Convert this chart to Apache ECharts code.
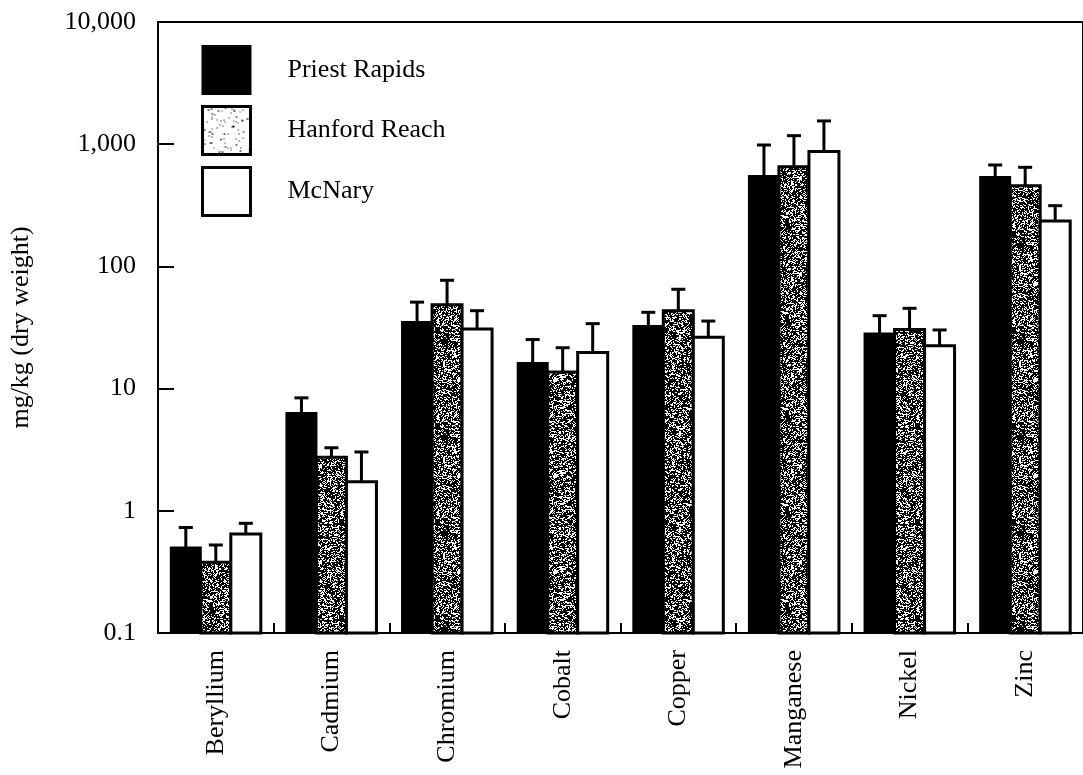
<!DOCTYPE html>
<html>
<head>
<meta charset="utf-8">
<script src="https://cdn.jsdelivr.net/npm/echarts@6/dist/echarts.min.js"></script>
<style>
  html, body { margin: 0; padding: 0; background: #fff; }
  #chart { width: 1083px; height: 775px; }
</style>
</head>
<body>
<div id="chart"></div>
<script>
// Metal concentrations in sediment, mg/kg dry weight (mean and upper error bound)
const metals = ['Beryllium', 'Cadmium', 'Chromium', 'Cobalt', 'Copper', 'Manganese', 'Nickel', 'Zinc'];
const siteNames = ['Priest Rapids', 'Hanford Reach', 'McNary'];

const priestRapids     = [0.50, 6.3, 35, 16.2, 32.5, 550, 28.3, 540];
const priestRapidsHigh = [0.73, 8.4, 51, 25.2, 42.1, 985, 39.5, 676];

const hanfordReach     = [0.38, 2.74, 48.6, 13.7, 43.4, 655, 30.5, 457];
const hanfordReachHigh = [0.525, 3.28, 77, 21.6, 65, 1175, 45.4, 647];

const mcNary     = [0.645, 1.73, 30.8, 19.7, 26.3, 870, 22.4, 235];
const mcNaryHigh = [0.79, 3.03, 43.4, 34, 35.7, 1550, 30.2, 314];

const yTickLabels = { '0.1': '0.1', '1': '1', '10': '10', '100': '100', '1000': '1,000', '10000': '10,000' };

const Y_MIN = 0.1;
const Y_MAX = 10000;

const FONT = '"Liberation Serif", "Times New Roman", serif';
const BAR_W = 30;

// Stippled fill used for the Hanford Reach bars (dense) and its legend key (sparse)
function stipple(density, seed) {
  const size = 96;
  const c = document.createElement('canvas');
  c.width = size; c.height = size;
  const ctx = c.getContext('2d');
  ctx.fillStyle = '#fff';
  ctx.fillRect(0, 0, size, size);
  ctx.fillStyle = '#000';
  let s = seed >>> 0;
  const next = () => { s = (Math.imul(s, 1664525) + 1013904223) >>> 0; return s / 4294967296; };
  for (let y = 0; y < size; y++) {
    for (let x = 0; x < size; x++) {
      if (next() < density) {
        const w = next() < 0.3 ? 2 : 1;
        ctx.fillRect(x, y, w, 1);
      }
    }
  }
  return c;
}
const denseFill = { image: stipple(0.58, 7), repeat: 'repeat' };
const lightFill = { image: stipple(0.035, 11), repeat: 'repeat' };

const siteStyles = [
  { fill: '#000', border: 2 },
  { fill: denseFill, border: 3 },
  { fill: '#fff', border: 3 }
];

// Bars rise from the bottom of the log axis (0.1), so they are drawn as custom rects
function barSeries(slot, means) {
  const st = siteStyles[slot];
  return {
    name: siteNames[slot],
    type: 'custom',
    z: 3,
    itemStyle: { color: st.fill, borderColor: '#000', borderWidth: st.border },
    data: metals.map((m, i) => [i, means[i]]),
    encode: { x: 0, y: 1 },
    renderItem(params, api) {
      const idx = api.value(0);
      const top = api.coord([idx, api.value(1)]);
      const bottom = api.coord([idx, Y_MIN]);
      const cx = top[0] + (slot - 1) * BAR_W;
      return {
        type: 'rect',
        shape: { x: cx - BAR_W / 2, y: top[1], width: BAR_W, height: bottom[1] - top[1] },
        style: { fill: st.fill, stroke: '#000', lineWidth: st.border }
      };
    },
    silent: true
  };
}

function errorSeries(slot, means, highs) {
  return {
    name: siteNames[slot] + ' error',
    type: 'custom',
    z: 5,
    data: metals.map((m, i) => [i, means[i], highs[i]]),
    encode: { x: 0, y: [1, 2] },
    renderItem(params, api) {
      const idx = api.value(0);
      const base = api.coord([idx, api.value(1)]);
      const top = api.coord([idx, api.value(2)]);
      const x = base[0] + (slot - 1) * BAR_W;
      const capHalf = 7;
      const style = { stroke: '#000', lineWidth: 3 };
      return {
        type: 'group',
        children: [
          { type: 'line', shape: { x1: x, y1: base[1], x2: x, y2: top[1] }, style },
          { type: 'line', shape: { x1: x - capHalf, y1: top[1], x2: x + capHalf, y2: top[1] }, style }
        ]
      };
    },
    silent: true
  };
}

const chart = echarts.init(document.getElementById('chart'), null, { renderer: 'canvas' });

chart.setOption({
  animation: false,
  backgroundColor: '#fff',
  textStyle: { fontFamily: FONT, color: '#000' },
  grid: {
    left: 156, top: 22, width: 936, height: 611,
    show: true, borderColor: '#000', borderWidth: 2, backgroundColor: 'transparent'
  },
  legend: {
    orient: 'vertical',
    left: 201, top: 45, padding: 0,
    itemWidth: 48, itemHeight: 48, itemGap: 10,
    icon: 'rect',
    textStyle: { fontFamily: FONT, fontSize: 26, color: '#000', padding: [0, 0, 0, 32] },
    data: [
      { name: siteNames[0], itemStyle: { color: '#000', borderColor: '#000', borderWidth: 2 } },
      { name: siteNames[1], itemStyle: { color: lightFill, borderColor: '#000', borderWidth: 3 } },
      { name: siteNames[2], itemStyle: { color: '#fff', borderColor: '#000', borderWidth: 3 } }
    ]
  },
  xAxis: {
    type: 'category',
    data: metals,
    axisLine: { lineStyle: { color: '#000', width: 2 } },
    axisTick: { show: true, inside: true, length: 10, interval: 0, lineStyle: { color: '#000', width: 2 } },
    axisLabel: { rotate: 90, margin: 17, fontFamily: FONT, fontSize: 26, color: '#000', interval: 0 },
    splitLine: { show: false }
  },
  yAxis: {
    type: 'log',
    logBase: 10,
    min: Y_MIN,
    max: Y_MAX,
    name: 'mg/kg (dry weight)',
    nameLocation: 'middle',
    nameGap: 124,
    nameRotate: 90,
    nameTextStyle: { fontFamily: FONT, fontSize: 26, color: '#000' },
    axisLine: { show: true, lineStyle: { color: '#000', width: 2 } },
    axisTick: { show: true, inside: true, length: 16, lineStyle: { color: '#000', width: 2 } },
    axisLabel: {
      margin: 22, fontFamily: FONT, fontSize: 26, color: '#000',
      formatter: v => yTickLabels[String(+v.toPrecision(6))] || ''
    },
    splitLine: { show: false }
  },
  series: [
    barSeries(0, priestRapids),
    barSeries(1, hanfordReach),
    barSeries(2, mcNary),
    errorSeries(0, priestRapids, priestRapidsHigh),
    errorSeries(1, hanfordReach, hanfordReachHigh),
    errorSeries(2, mcNary, mcNaryHigh)
  ]
});
</script>
</body>
</html>
